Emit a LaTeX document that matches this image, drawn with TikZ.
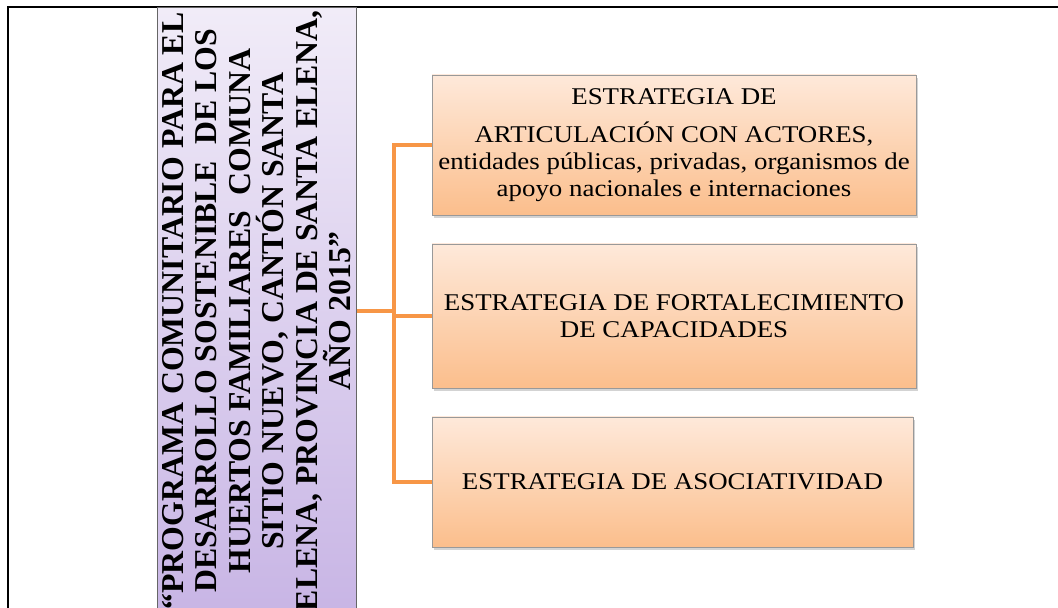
\documentclass[tikz,border=0pt]{standalone}
\usepackage{fontspec}
\setmainfont{Liberation Serif}
\newfontfamily\cajafont[FakeStretch = 1.12]{Liberation Serif}
\usetikzlibrary{shadows}

\definecolor{naranja}{HTML}{F79646}
\definecolor{duraznoClaro}{HTML}{FEE9DA}
\definecolor{duraznoOscuro}{HTML}{FBBE8C}
\definecolor{lilaClaro}{HTML}{F1ECF8}
\definecolor{lilaOscuro}{HTML}{C8B5E5}

\tikzset{
    estrategia/.style = {draw = gray!80, line width = 0.8pt, top color = duraznoClaro,
        bottom color = duraznoOscuro, align = center, inner sep = 0pt,
        font = \cajafont\fontsize{24}{27}\selectfont,
        drop shadow = {shadow xshift = 2pt, shadow yshift = -3pt, opacity = 0.35}},
    conector/.style = {draw = naranja, line width = 4pt},
}

\begin{document}
\begin{tikzpicture}[x = 1pt, y = 1pt]
    \useasboundingbox (0, 0) rectangle (1058, 608);
    \draw[line width = 2pt] (8, -10) -- (8, 601) -- (1070, 601);

    \node[draw = black!60, line width = 1pt, top color = lilaClaro, bottom color = lilaOscuro,
        minimum width = 199pt, minimum height = 606pt, inner sep = 0pt] (titulo) at (256.5, 297) {};
    \node[rotate = 90, align = center, font = \bfseries\fontsize{31.8}{33.4}\selectfont] (tituloTexto) at (titulo.center)
        {“PROGRAMA COMUNITARIO PARA EL \\ DESARROLLO SOSTENIBLE\ \ DE LOS \\ HUERTOS FAMILIARES\ \ COMUNA \\
        SITIO NUEVO, CANTÓN SANTA \\ ELENA, PROVINCIA DE SANTA ELENA, \\ AÑO 2015”};

    \node[estrategia, minimum width = 484pt, minimum height = 140pt] (caja1) at (674, 463)
        {ESTRATEGIA DE \\[11pt] ARTICULACIÓN CON ACTORES, \\ entidades públicas, privadas, organismos de \\ apoyo nacionales e internaciones};
    \node[estrategia, minimum width = 484pt, minimum height = 144pt] (caja2) at (674, 292)
        {ESTRATEGIA DE FORTALECIMIENTO \\ DE CAPACIDADES};
    \node[estrategia, minimum width = 481pt, minimum height = 130pt] (caja3) at (672.5, 126)
        {ESTRATEGIA DE ASOCIATIVIDAD};

    \coordinate (bus) at (394, 297);
    \draw[conector] (titulo.east) -- (bus);
    \draw[conector] (caja1.west) -| (bus |- caja3.west) -- (caja3.west);
    \draw[conector] (bus |- caja2.west) -- (caja2.west);
\end{tikzpicture}
\end{document}
